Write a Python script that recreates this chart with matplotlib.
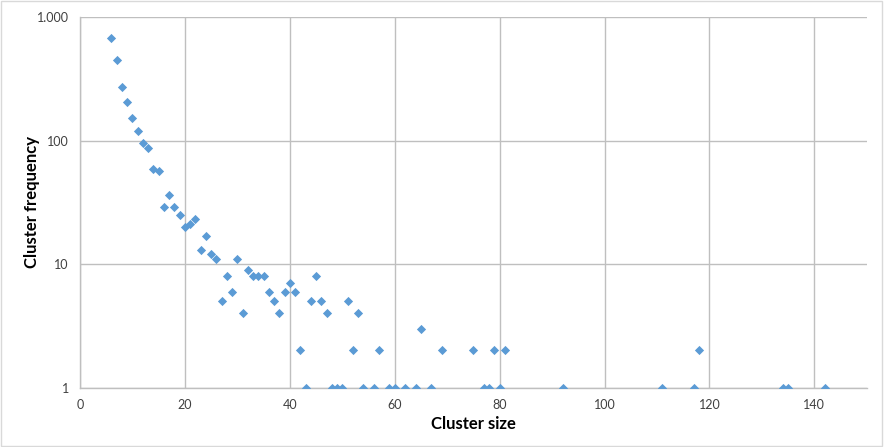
import matplotlib
matplotlib.use("Agg")
import matplotlib.pyplot as plt
from matplotlib.ticker import FixedLocator, FuncFormatter, NullLocator
from matplotlib.patches import Rectangle

# cluster size vs. how often a cluster of that size occurs
cluster_size = [6, 7, 8, 9, 10, 11, 12, 13, 14, 15, 16, 17, 18, 19, 20,
                21, 22, 23, 24, 25, 26, 27, 28, 29, 30, 31, 32, 33, 34, 35,
                36, 37, 38, 39, 40, 41, 42, 43, 44, 45, 46, 47, 48, 49, 50,
                51, 52, 53, 54, 56, 57, 59, 60, 62, 64, 65, 67, 69, 75, 77,
                78, 79, 80, 81, 92, 111, 117, 118, 134, 135, 142]
cluster_freq = [675, 450, 274, 206, 153, 119, 96, 87, 59, 57, 29, 36, 29, 25, 20,
                21, 23, 13, 17, 12, 11, 5, 8, 6, 11, 4, 9, 8, 8, 8,
                6, 5, 4, 6, 7, 6, 2, 1, 5, 8, 5, 4, 1, 1, 1,
                5, 2, 4, 1, 1, 2, 1, 1, 1, 1, 3, 1, 2, 2, 1,
                1, 2, 1, 2, 1, 1, 1, 2, 1, 1, 1]

x_ticks = [0, 20, 40, 60, 80, 100, 120, 140]
y_ticks = [1, 10, 100, 1000]

plt.rcParams["font.family"] = ["Lato", "DejaVu Sans"]

fig = plt.figure(figsize=(8.84, 4.47), dpi=100)
ax = fig.add_axes([0.0905, 0.1327, 0.890, 0.829])

ax.scatter(cluster_size, cluster_freq, marker="D", s=22, color="#5B9BD5",
           linewidths=0, zorder=3)

ax.set_yscale("log")
ax.set_xlim(0, 150)
ax.set_ylim(1, 1000)
ax.xaxis.set_major_locator(FixedLocator(x_ticks))
ax.yaxis.set_major_locator(FixedLocator(y_ticks))
ax.yaxis.set_minor_locator(NullLocator())
ax.yaxis.set_major_formatter(FuncFormatter(lambda v, p: f"{int(v):,}".replace(",", ".")))

ax.grid(True, color="#BFBFBF", linewidth=1)
ax.set_axisbelow(True)
for side in ["top", "right"]:
    ax.spines[side].set_visible(False)
for side in ["left", "bottom"]:
    ax.spines[side].set_color("#BFBFBF")
    ax.spines[side].set_linewidth(1)
ax.tick_params(length=0, labelsize=9, colors="#404040", pad=8)

ax.set_xlabel("Cluster size", fontsize=12, fontweight="bold")
ax.set_ylabel("Cluster frequency", fontsize=12, fontweight="bold")
ax.xaxis.set_label_coords(0.5, -0.098)
ax.yaxis.set_label_coords(-0.061, 0.5)
ax.xaxis.label.set_verticalalignment("center")
ax.yaxis.label.set_verticalalignment("center")

# light frame round the whole chart
fig.patches.append(Rectangle((0.001, 0.002), 0.997, 0.995, transform=fig.transFigure,
                             fill=False, edgecolor="#D9D9D9", linewidth=1))

fig.savefig("out.png", dpi=100)
